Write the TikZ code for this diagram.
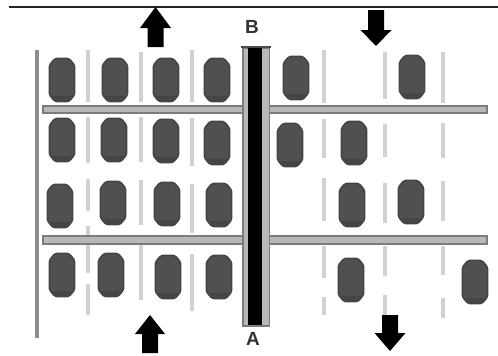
\documentclass[tikz,border=0pt]{standalone}
\usepackage{fontspec}
\setmainfont{Liberation Sans}
\definecolor{cardark}{HTML}{454545}
\definecolor{carmid}{HTML}{505050}
\definecolor{divider}{HTML}{D2D2D2}
\definecolor{wall}{HTML}{8C8C8C}
\definecolor{barfill}{HTML}{B8B8B8}
\definecolor{barline}{HTML}{7C7C7C}
\definecolor{labelgrey}{HTML}{333333}
\tikzset{
  divline/.style={draw=divider,line width=3.6pt},
  wallline/.style={draw=wall,line width=3.4pt},
  barshape/.style={fill=barfill,draw=barline,line width=2.4pt},
  carbody/.style={fill=carmid,draw=cardark,line width=1.6pt,line join=round,rounded corners=1.5pt},
  carband/.style={fill=cardark},
  bigarrow/.style={fill=black,draw=none},
  lab/.style={font=\bfseries\fontsize{19}{19}\selectfont,text=labelgrey,inner sep=0pt}
}
\newcommand{\carat}[2]{%
  \path[carbody] (#1-7,#2-21.5) -- (#1+7,#2-21.5) -- (#1+12.5,#2-15) -- (#1+12.5,#2+15) -- (#1+7,#2+21.5) -- (#1-7,#2+21.5) -- (#1-12.5,#2+15) -- (#1-12.5,#2-15) -- cycle;
  \fill[carband] (#1-7,#2+21) -- (#1+7,#2+21) -- (#1+11.5,#2+16) -- (#1-11.5,#2+16) -- cycle;
}
\newcommand{\divseg}[3]{\draw[divline] (#1,#2) -- (#1,#3);}
\newcommand{\uparrowat}[5]{% x, tip y, head base y, shaft end y, half head width
  \fill[bigarrow] (#1,#2) -- (#1+#5,#3) -- (#1+8,#3) -- (#1+8,#4) -- (#1-8,#4) -- (#1-8,#3) -- (#1-#5,#3) -- cycle;}
\begin{document}
\begin{tikzpicture}[x=1pt,y=-1pt]
\useasboundingbox (0,0) rectangle (498,356);
\fill[white] (0,0) rectangle (498,356);
% top rule
\coordinate (ruleL) at (9,6.5);
\coordinate (ruleR) at (498,6.5);
\draw[line width=2pt,black!85] (ruleL) -- (ruleR);
% dividers
\divseg{88}{50}{102}\divseg{141}{52}{102}\divseg{192}{50}{102}
\divseg{324}{50}{103}\divseg{385}{52}{99}\divseg{443}{52}{103}
\divseg{88}{117}{163}\divseg{141}{117}{162}\divseg{192}{118}{166}
\divseg{324}{119}{158}\divseg{385}{124}{157}\divseg{443}{123}{158}
\divseg{88}{179}{211}\divseg{88}{226}{273}\divseg{88}{284}{315}
\divseg{141}{180}{225}\divseg{141}{245}{300}
\divseg{192}{184}{233}\divseg{192}{254}{311}
\divseg{324}{178}{221}\divseg{324}{246}{278}\divseg{324}{297}{315}
\divseg{385}{183}{223}\divseg{385}{246}{276}\divseg{385}{295}{315}
\divseg{443}{181}{221}\divseg{443}{246}{275}\divseg{443}{298}{318}
% left wall
\draw[wallline] (37,50) -- (37,338);
% cross bars
\path[barshape] (43,106) rectangle (487,113);
\path[barshape] (43,236) rectangle (487,244);
% central bar
\path[fill=barfill,draw=barline,line width=1.8pt] (243,48) rectangle (269.5,326);
\fill[black] (248,48) rectangle (261.5,325);
\draw[line width=1.4pt,black!70] (241,47) -- (271,47);
% cars
\carat{62}{80}\carat{115}{80}\carat{166}{80}\carat{217}{80}\carat{296}{78}\carat{412}{77}
\carat{62}{140}\carat{114}{140}\carat{166}{141}\carat{217}{143}\carat{290}{145}\carat{354}{143}
\carat{60}{206}\carat{113}{203}\carat{167}{204}\carat{219}{205}\carat{352}{205}\carat{411}{202}
\carat{62}{275}\carat{111}{275}\carat{168}{277}\carat{219}{277}\carat{351}{280}\carat{475}{282}
% arrows
\uparrowat{155.5}{7}{28}{47}{15.5}
\uparrowat{376}{46}{30}{10}{15.5}
\uparrowat{150}{315}{334}{353}{15}
\uparrowat{390}{351}{333}{315}{15.5}
% labels
\node[lab] (labB) at (252,27) {B};
\node[lab] (labA) at (253,339) {A};
\end{tikzpicture}
\end{document}
